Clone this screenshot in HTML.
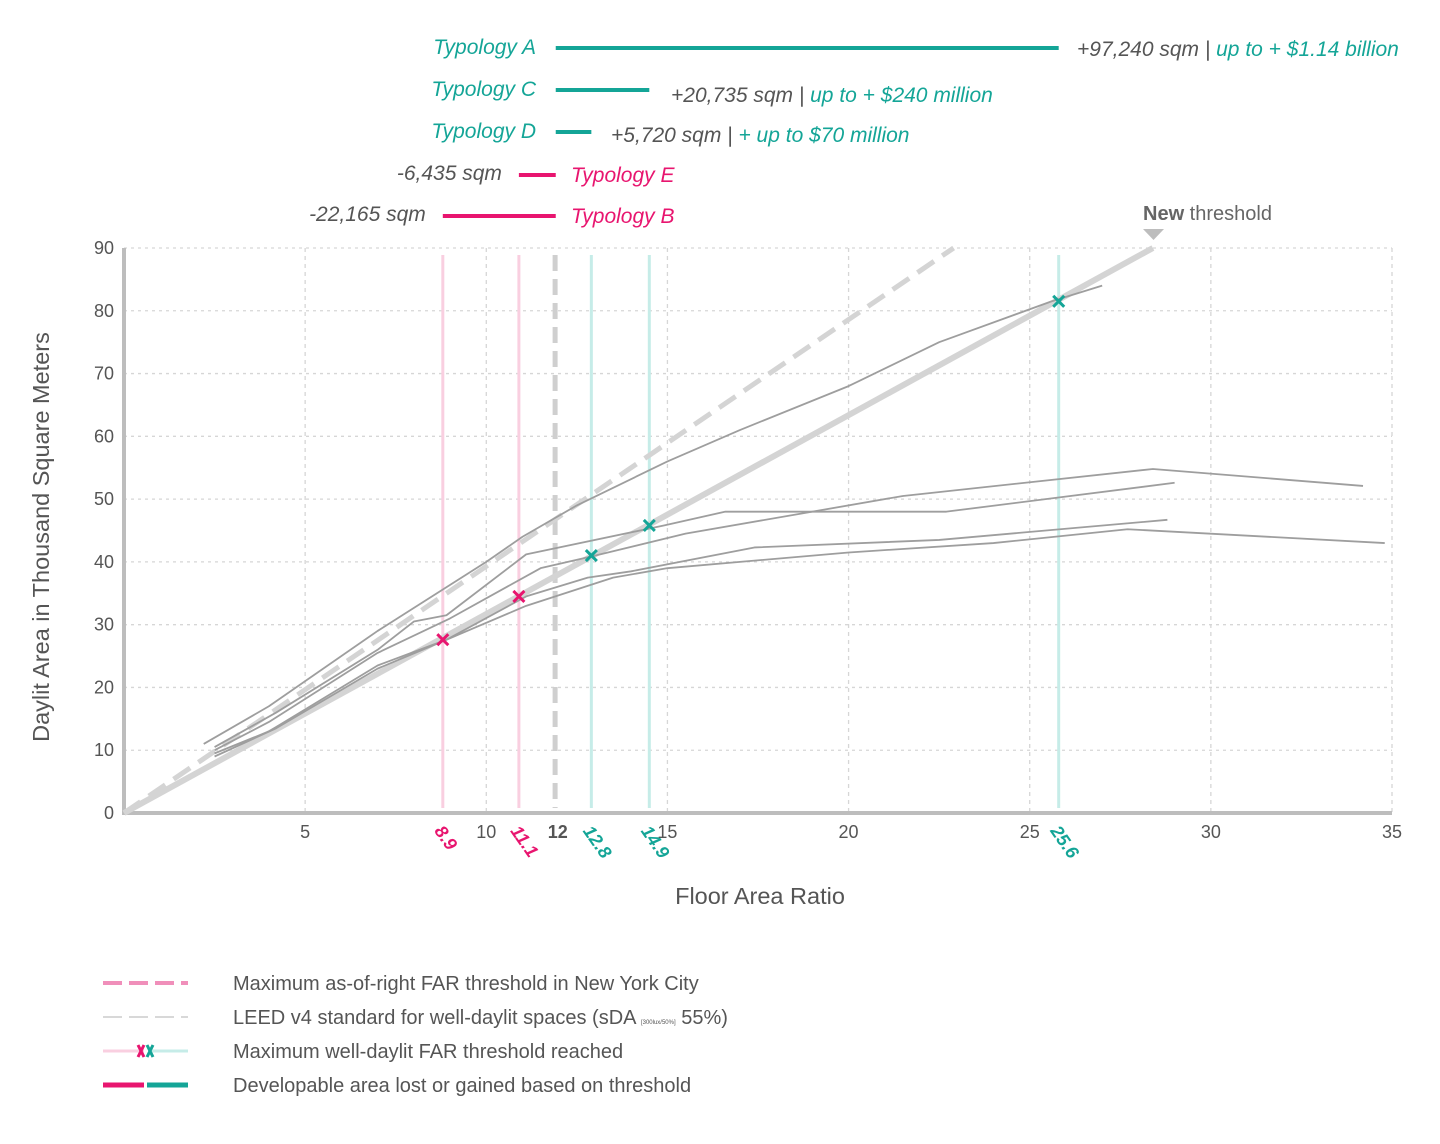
<!DOCTYPE html>
<html><head><meta charset="utf-8"><style>
body{margin:0;background:#fff;width:1440px;height:1139px;overflow:hidden;font-family:"Liberation Sans",Arial,sans-serif}
svg text{font-family:"Liberation Sans",Arial,sans-serif}
</style></head><body>
<svg id="chart" width="1440" height="1139" viewBox="0 0 1440 1139" xmlns="http://www.w3.org/2000/svg"></svg>
<script>
const xTicks=[5,10,15,20,25,30,35];
const yTicks=[0,10,20,30,40,50,60,70,80,90];
const series1X=[2.2,4,7,10,11,12.5,15,17,20,22.5,25.6,27];
const series1Y=[11,17,29,40,44,49,56,61,68,75,81.5,84];
const series2X=[2.5,4,7,9,11.5,13,15.5,21.5,28.4,34.2];
const series2Y=[10,14.5,25.5,31,39,41,44.5,50.5,54.8,52.1];
const series3X=[2.5,4.2,7,8,8.9,11.1,14.9,16.6,22.7,29];
const series3Y=[10.5,16,26,30.5,31.5,41.2,45.8,48,48,52.6];
const series4X=[2.5,4,7,8.9,11.1,12.8,14,17.4,22.5,28.8];
const series4Y=[9.5,13,23.5,27.6,34.5,37.5,38.5,42.3,43.5,46.7];
const series5X=[2.5,4.2,7,8.9,11.1,13.5,15,20,24,27.7,34.8];
const series5Y=[9,13.5,23,27.6,33,37.5,39,41.5,43,45.2,43];
const thresholdX=[0,28.4];
const thresholdY=[0,90];
const leedX=[0,22.9];
const leedY=[0,90];
const nycFar=[11.9];
const markerX=[8.8,10.9,12.9,14.5,25.8];
const markerY=[27.6,34.5,41,45.8,81.5];
const markerLabels=['8.9','11.1','12.8','14.9','25.6'];
const markerGain=[false,false,true,true,true];
const typologyNames=['Typology A','Typology C','Typology D','Typology E','Typology B'];
const typologyFar=[25.8,14.5,12.9,10.9,8.8];
const typologySqm=['+97,240 sqm','+20,735 sqm','+5,720 sqm','-6,435 sqm','-22,165 sqm'];
const typologyMoney=['up to + $1.14 billion','up to + $240 million','+ up to $70 million','',''];

const X0=124,X1=1392,Y0=813,Y1=248;
const sx=v=>X0+v*(X1-X0)/35;
const sy=v=>Y0-v*(Y0-Y1)/90;
const NS='http://www.w3.org/2000/svg';
const svg=document.getElementById('chart');
const TEAL='#14a597',PINK='#e8156f',GRAY='#555';
function mk(tag,attrs,parent){const e=document.createElementNS(NS,tag);for(const k in attrs)e.setAttribute(k,attrs[k]);(parent||svg).appendChild(e);return e;}
function txt(s,attrs){const e=mk('text',attrs);e.textContent=s;return e;}

yTicks.forEach(v=>{if(v===0)return;const l=mk('line',{x1:X0,x2:X1,y1:sy(v),y2:sy(v),stroke:'#d6d6d6','stroke-width':1.3,'stroke-dasharray':'3 4'});

});
xTicks.forEach(v=>{const l=mk('line',{x1:sx(v),x2:sx(v),y1:Y1,y2:Y0,stroke:'#d6d6d6','stroke-width':1.3,'stroke-dasharray':'4 4'});

});

markerX.forEach((v,i)=>{const l=mk('line',{x1:sx(v),x2:sx(v),y1:255,y2:808,stroke:markerGain[i]?'#c6ece8':'#f9cfe0','stroke-width':3});

});
nycFar.forEach(v=>{const l=mk('line',{x1:sx(v),x2:sx(v),y1:255,y2:808,stroke:'#cfcfcf','stroke-width':5,'stroke-dasharray':'16 8'});

});

const ax1=mk('line',{x1:X0,x2:X0,y1:Y1,y2:Y0+2,stroke:'#bdbdbd','stroke-width':4});


const ax2=mk('line',{x1:X0-2,x2:X1,y1:Y0,y2:Y0,stroke:'#bdbdbd','stroke-width':4});



function poly(xs,ys,attrs,name){const p=mk('polyline',Object.assign({points:xs.map((x,i)=>sx(x)+','+sy(ys[i])).join(' '),fill:'none'},attrs));

return p;}
poly(leedX,leedY,{stroke:'#d4d4d4','stroke-width':5,'stroke-dasharray':'20 10'},'leed-standard-line');
poly(thresholdX,thresholdY,{stroke:'#d4d4d4','stroke-width':6},'new-threshold-line');
[[series1X,series1Y],[series2X,series2Y],[series3X,series3Y],[series4X,series4Y],[series5X,series5Y]].forEach((s,i)=>{
poly(s[0],s[1],{stroke:'#9e9e9e','stroke-width':1.8,'stroke-linejoin':'round'},'typology-series-'+(i+1));});

markerX.forEach((v,i)=>{const g=mk('g',{});


const c=markerGain[i]?TEAL:PINK,x=sx(v),y=sy(markerY[i]),d=5.5;
mk('path',{d:`M${x-d},${y-d}L${x+d},${y+d}M${x+d},${y-d}L${x-d},${y+d}`,stroke:c,'stroke-width':3},g);
const lx=x-9;
const t=txt(markerLabels[i],{x:lx,y:831,fill:c,'font-size':18,'font-weight':'bold','font-style':'italic',transform:`rotate(55 ${lx} 831)`});

});

xTicks.forEach(v=>{const t=txt(String(v),{x:sx(v),y:838,'text-anchor':'middle','font-size':18,fill:GRAY});

});
const t12=txt('12',{x:sx(12)-1,y:838,'text-anchor':'middle','font-size':18,'font-weight':'bold',fill:GRAY});


yTicks.forEach(v=>{const t=txt(String(v),{x:114,y:sy(v)+6,'text-anchor':'end','font-size':18,fill:GRAY});

});
const yt=txt('Daylit Area in Thousand  Square Meters',{x:49,y:537,'text-anchor':'middle','font-size':23.5,fill:GRAY,transform:'rotate(-90 49 537)'});


const xt=txt('Floor  Area Ratio',{x:760,y:904,'text-anchor':'middle','font-size':23.5,fill:GRAY});



const nt=mk('text',{x:1143,y:220,'font-size':20,fill:'#666'});
nt.innerHTML='<tspan font-weight="bold">New</tspan> threshold';


const tri=mk('path',{d:'M1143,229L1164,229L1153.5,240Z',fill:'#bdbdbd'});



const rowsY=[48,90,132,175,216];
const FS=21;
typologyNames.forEach((n,i)=>{const gain=typologyFar[i]>12,c=gain?TEAL:PINK,y=rowsY[i];
const a=sx(12)-3,b=sx(typologyFar[i]);
const bar=mk('line',{x1:Math.min(a,b),x2:Math.max(a,b),y1:y,y2:y,stroke:c,'stroke-width':4});


if(gain){
const nl=txt(n,{x:536,y:y+6,'text-anchor':'end','font-size':FS,'font-style':'italic',fill:c});


const sxp=i===0?1077:(i===1?671:611),syp=i===0?y+8:(i===1?y+12:y+10);
const s=mk('text',{x:sxp,y:syp,'font-size':FS,'font-style':'italic',fill:GRAY});
s.innerHTML=typologySqm[i]+' | <tspan fill="'+TEAL+'">'+typologyMoney[i]+'</tspan>';


}else{
const nl=txt(n,{x:571,y:y+7,'font-size':FS,'font-style':'italic',fill:c});


const s=txt(typologySqm[i],{x:Math.min(a,b)-17,y:y+5,'text-anchor':'end','font-size':FS,'font-style':'italic',fill:GRAY});


}});

const leg=[983,1017,1051,1085];
const l1=mk('line',{x1:103,x2:188,y1:leg[0],y2:leg[0],stroke:'#f08fba','stroke-width':4,'stroke-dasharray':'19 7'});


const l2=mk('line',{x1:103,x2:188,y1:leg[1],y2:leg[1],stroke:'#d8d8d8','stroke-width':2,'stroke-dasharray':'19 7'});


const l3=mk('g',{});


mk('line',{x1:103,x2:144,y1:leg[2],y2:leg[2],stroke:'#f9cfe0','stroke-width':3},l3);
mk('line',{x1:148,x2:188,y1:leg[2],y2:leg[2],stroke:'#c6ece8','stroke-width':3},l3);
mk('path',{d:`M138,${leg[2]-6}L144,${leg[2]+6}M144,${leg[2]-6}L138,${leg[2]+6}`,stroke:PINK,'stroke-width':3},l3);
mk('path',{d:`M147,${leg[2]-6}L153,${leg[2]+6}M153,${leg[2]-6}L147,${leg[2]+6}`,stroke:TEAL,'stroke-width':3},l3);
const l4=mk('g',{});


mk('line',{x1:103,x2:144,y1:leg[3],y2:leg[3],stroke:PINK,'stroke-width':5},l4);
mk('line',{x1:147,x2:188,y1:leg[3],y2:leg[3],stroke:TEAL,'stroke-width':5},l4);
const legTexts=['Maximum as-of-right FAR threshold in New York City',null,'Maximum well-daylit FAR threshold reached','Developable area lost or gained based on threshold'];
legTexts.forEach((s,i)=>{let t;
if(s===null){t=mk('text',{x:233,y:leg[i]+7,'font-size':20,fill:GRAY});
t.innerHTML='LEED v4 standard for well-daylit spaces (sDA <tspan font-size="6">[300lux/50%]</tspan> 55%)';}
else t=txt(s,{x:233,y:leg[i]+7,'font-size':20,fill:GRAY});

});
</script>
</body></html>
